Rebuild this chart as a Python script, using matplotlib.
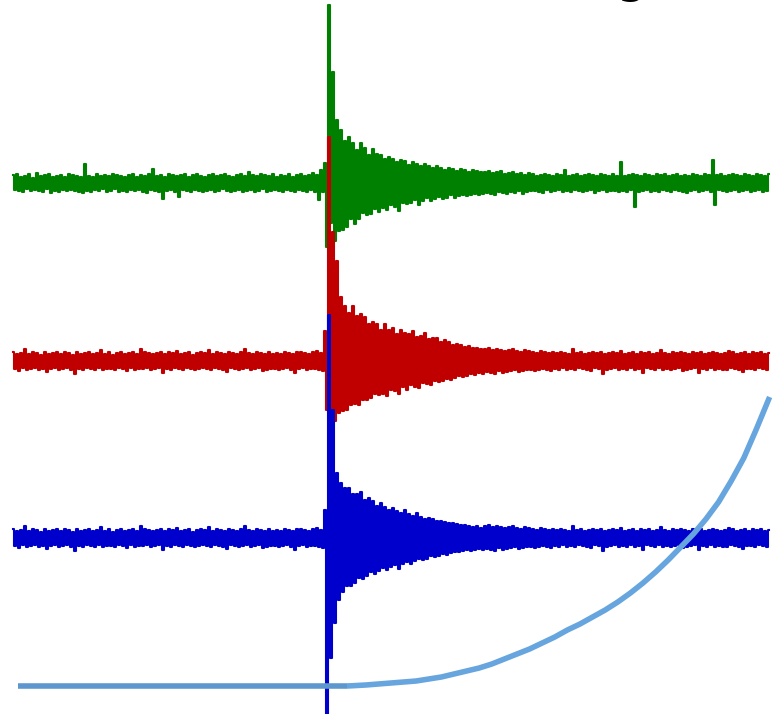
import numpy as np
import matplotlib
matplotlib.use('Agg')
import matplotlib.pyplot as plt

# sampling: 379 samples over 60 s, event onset near 25 s
n_samples = 379
duration = 60.0

# trace offsets (counts) for the three components
offsets = {'green': 355.0, 'red': 177.5, 'blue': 0.0}

# green component: background before event, event window, background after
green_pre = [
    8, -7, 9, -8, 6, -9, 7, -6, 9, -8, 5, -7,
    10, -8, 7, -9, 8, -6, 9, -10, 6, -8, 7, -9,
    8, -7, 6, -8, 9, -7, 8, -8, 7, -9, 6, -10,
    19, -8, 7, -9, 6, -7, 9, -8, 7, -6, 8, -9,
    7, -8, 9, -6, 8, -9, 7, -8, 6, -9, 8, -7,
    9, -8, 6, -7, 8, -9, 7, -10, 9, -7, 14, -8,
    7, -9, 8, -16, 6, -8, 9, -7, 8, -9, 7, -14,
    8, -7, 9, -8, 6, -9, 8, -7, 9, -8, 7, -9,
    6, -8, 8, -7, 9, -9, 7, -8, 8, -6, 9, -8,
    7, -9, 6, -8, 8, -7, 9, -9, 7, -8, 11, -7,
    8, -9, 7, -8, 9, -6, 8, -9, 7, -8, 9, -7,
    6, -8, 8, -9, 7, -7, 9, -8, 6, -9, 8, -7,
    9, -8, 7, -9, 8, -7, 10, -9, 8, -17, 13, -9,
]
green_event = [
    20, -64, 178, -40, 111, -58, 63, -48, 53, -47, 42, -44,
    46, -36, 40, -41, 33, -36, 40, -30, 35, -32, 28, -31,
    34, -26, 29, -29, 28, -25, 24, -27, 26, -22, 24, -24,
    21, -28, 23, -20, 22, -21, 18, -20, 21, -17, 19, -22,
    17, -18, 19, -15, 17, -18, 15, -16, 17, -14, 15, -16,
    13, -15, 15, -12, 14, -15, 12, -13, 14, -12, 13, -13,
    11, -12, 13, -11, 12, -12, 11, -11,
]
green_post = [
    11, -10, 12, -11, 10, -12, 11, -9, 12, -10, 9, -11,
    10, -9, 11, -10, 9, -8, 10, -11, 8, -9, 10, -8,
    9, -8, 7, -9, 8, -10, 9, -7, 8, -9, 7, -8,
    9, -7, 8, -9, 13, -8, 7, -9, 8, -7, 9, -8,
    7, -9, 8, -8, 9, -7, 8, -10, 7, -8, 9, -7,
    8, -9, 7, -8, 9, -8, 7, -9, 21, -8, 7, -9,
    8, -7, 9, -24, 8, -9, 7, -8, 9, -7, 8, -9,
    7, -8, 9, -9, 8, -7, 9, -8, 7, -9, 8, -7,
    9, -8, 7, -9, 8, -10, 7, -8, 9, -7, 8, -9,
    7, -8, 9, -7, 8, -9, 23, -22, 8, -7, 9, -8,
    7, -9, 8, -8, 9, -7, 8, -9, 7, -8, 9, -7,
    8, -9, 7, -8, 9, -7, 8, -9, 7, -8, 9,
]

# red and blue components share the same background noise
rb_pre = [
    9, -8, 7, -10, 8, -7, 12, -9, 7, -8, 9, -7,
    8, -9, 6, -8, 9, -11, 7, -8, 8, -7, 9, -9,
    7, -8, 9, -7, 8, -9, 6, -13, 9, -8, 7, -9,
    8, -7, 9, -8, 7, -9, 8, -7, 11, -9, 7, -8,
    9, -8, 6, -9, 8, -7, 9, -8, 7, -10, 8, -7,
    9, -9, 7, -8, 12, -8, 9, -7, 8, -9, 7, -8,
    8, -7, 9, -12, 7, -8, 9, -9, 8, -7, 10, -8,
    7, -9, 8, -7, 9, -8, 6, -9, 8, -8, 9, -7,
    8, -8, 11, -9, 7, -7, 9, -8, 8, -9, 7, -11,
    9, -7, 8, -8, 7, -9, 9, -8, 12, -7, 8, -9,
    7, -8, 9, -7, 8, -10, 7, -9, 9, -8, 7, -8,
    8, -9, 7, -8, 9, -7, 8, -9, 7, -12, 9, -8,
    9, -7, 8, -9, 7, -8, 9, -8, 10, -9, 8, -10,
]
rb_post = [
    12, -11, 13, -12, 11, -13, 12, -10, 11, -12, 10, -11,
    11, -10, 12, -9, 10, -11, 9, -10, 11, -9, 10, -9,
    9, -10, 8, -9, 10, -8, 9, -9, 8, -10, 9, -8,
    8, -9, 9, -7, 8, -9, 7, -8, 12, -9, 8, -7,
    9, -8, 7, -9, 8, -10, 9, -7, 8, -8, 9, -13,
    7, -9, 8, -8, 9, -7, 8, -9, 10, -8, 7, -9,
    8, -7, 9, -9, 7, -8, 9, -12, 8, -7, 9, -8,
    7, -9, 8, -7, 11, -9, 8, -8, 7, -9, 9, -8,
    8, -7, 9, -10, 8, -9, 7, -8, 9, -7, 8, -12,
    9, -8, 7, -9, 8, -7, 9, -9, 8, -8, 7, -9,
    8, -9, 10, -7, 9, -8, 7, -9, 8, -11, 9, -8,
    7, -8, 9, -9, 8, -7, 9, -8, 7, -9, 8,
]
red_event = [
    30, -49, 224, -66, 129, -60, 100, -52, 64, -50, 55, -49,
    48, -44, 55, -43, 45, -44, 47, -39, 44, -39, 37, -37,
    39, -33, 37, -34, 31, -33, 37, -35, 31, -29, 33, -30,
    27, -33, 31, -26, 28, -29, 27, -24, 30, -26, 24, -27,
    25, -22, 28, -23, 22, -24, 23, -20, 23, -21, 19, -20,
    21, -18, 19, -19, 16, -17, 17, -15, 16, -16, 14, -15,
    15, -13, 13, -14, 13, -12, 12, -13,
]
blue_event = [
    28, -190, 223, -120, 128, -85, 65, -62, 55, -54, 50, -48,
    50, -48, 44, -45, 44, -40, 46, -41, 38, -38, 40, -34,
    37, -36, 32, -33, 35, -30, 31, -32, 28, -29, 30, -27,
    27, -31, 25, -26, 28, -24, 24, -26, 22, -23, 25, -21,
    21, -22, 19, -21, 20, -18, 19, -19, 17, -18, 17, -16,
    16, -17, 15, -15, 15, -14, 14, -14, 13, -13, 13, -12,
    12, -13, 11, -12, 12, -11, 10, -12,
]

# cumulative curve (time in s, level in counts)
flat_t = [0.4, 26.5]
flat_level = [-148, -148]
curve_t = [26.5, 27, 28, 29, 30, 31, 32, 33, 34, 35, 36, 37, 38, 39, 40,
           41, 42, 43, 44, 45, 46, 47, 48, 49, 50, 51, 52, 53, 54,
           55, 56, 57, 58, 59, 60.05]
curve_level = [-148, -147.7, -147, -146, -145, -144, -143, -141, -139, -136, -133, -130,
               -126, -121, -116, -111, -105, -99, -92, -86, -79, -72, -64, -55,
               -45, -34, -22, -9, 4, 19, 36, 57, 80, 109, 141]

t = np.arange(n_samples) * duration / (n_samples - 1)
traces = {
    'green': np.array(green_pre + green_event + green_post, dtype=float),
    'red': np.array(rb_pre + red_event + rb_post, dtype=float),
    'blue': np.array(rb_pre + blue_event + rb_post, dtype=float),
}
colors = {'green': '#008000', 'red': '#c00000', 'blue': '#0000cc'}

fig = plt.figure(figsize=(7.84, 7.14), dpi=100)
ax = fig.add_axes([0, 0, 1, 1])

for name in ['green', 'red', 'blue']:
    ax.plot(t, offsets[name] + traces[name], color=colors[name], lw=1.5,
            drawstyle='steps-mid')

ax.plot(flat_t, flat_level, color='#5e97cd', lw=4, solid_capstyle='butt')
ax.plot(curve_t, curve_level, color='#67a5de', lw=4, solid_capstyle='butt')

# title sits above the canvas, only the descender shows
fig.text(631 / 784, 1 + 8 / 714, 'g', fontsize=36, ha='center', va='baseline', color='black')

ax.set_xlim(-13 / 12.6, (784 - 13) / 12.6)
ax.set_ylim(-176, 538)
ax.axis('off')

fig.savefig('out.png', dpi=100)
